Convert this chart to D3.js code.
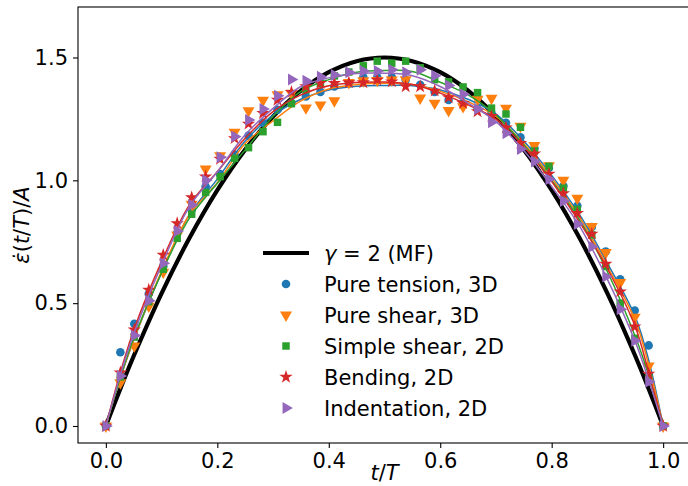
<!DOCTYPE html>
<html>
<head>
<meta charset="utf-8">
<script src="https://cdn.jsdelivr.net/npm/d3@7"></script>
<style>
  html, body { margin: 0; padding: 0; background: #fff; }
  svg { display: block; font-family: "DejaVu Sans", sans-serif; }
</style>
</head>
<body>
<svg id="chart" width="688" height="486"></svg>
<script>
// ---- data ----
const tSample = [0, 0.026, 0.051, 0.077, 0.103, 0.128, 0.154, 0.179, 0.205, 0.231,
  0.256, 0.282, 0.308, 0.333, 0.359, 0.385, 0.410, 0.436, 0.462, 0.487,
  0.513, 0.538, 0.564, 0.590, 0.615, 0.641, 0.667, 0.692, 0.718, 0.744,
  0.769, 0.795, 0.821, 0.846, 0.872, 0.897, 0.923, 0.949, 0.974, 1];

const pureTension = [0, 0.300, 0.416, 0.538, 0.650, 0.785, 0.880, 0.975, 1.026, 1.105,
  1.182, 1.234, 1.287, 1.315, 1.341, 1.360, 1.382, 1.395, 1.419, 1.419,
  1.420, 1.409, 1.389, 1.360, 1.327, 1.314, 1.290, 1.273, 1.234, 1.175,
  1.130, 1.050, 0.977, 0.896, 0.810, 0.710, 0.597, 0.470, 0.328, 0];
const pureShear = [0, 0.176, 0.326, 0.488, 0.626, 0.778, 0.903, 1.046, 1.100, 1.196,
  1.283, 1.326, 1.348, 1.355, 1.295, 1.307, 1.324, 1.398, 1.405, 1.407,
  1.409, 1.410, 1.335, 1.314, 1.284, 1.300, 1.330, 1.334, 1.294, 1.220,
  1.142, 1.060, 1.000, 0.927, 0.812, 0.706, 0.584, 0.443, 0.244, 0];
const simpleShear = [0, 0.200, 0.362, 0.506, 0.638, 0.764, 0.862, 0.951, 1.015, 1.090,
  1.133, 1.198, 1.236, 1.312, 1.368, 1.394, 1.425, 1.441, 1.466, 1.485,
  1.477, 1.485, 1.458, 1.410, 1.401, 1.380, 1.357, 1.294, 1.270, 1.216,
  1.119, 1.057, 0.968, 0.882, 0.778, 0.649, 0.500, 0.357, 0.200, 0];
const bending = [0, 0.217, 0.392, 0.554, 0.696, 0.825, 0.930, 1.015, 1.087, 1.171,
  1.230, 1.273, 1.327, 1.359, 1.382, 1.395, 1.395, 1.398, 1.398, 1.409,
  1.402, 1.382, 1.382, 1.364, 1.337, 1.314, 1.280, 1.261, 1.214, 1.151,
  1.108, 1.026, 0.947, 0.866, 0.782, 0.660, 0.547, 0.404, 0.212, 0];
const indentation = [0, 0.204, 0.368, 0.510, 0.662, 0.794, 0.900, 1.000, 1.094, 1.178,
  1.246, 1.290, 1.344, 1.410, 1.405, 1.422, 1.429, 1.440, 1.445, 1.445,
  1.450, 1.440, 1.450, 1.426, 1.386, 1.350, 1.290, 1.236, 1.192, 1.127,
  1.077, 1.004, 0.916, 0.822, 0.730, 0.608, 0.475, 0.347, 0.180, 0];

// fitted curves, read at these t values
const tCurve = [0, 0.025, 0.05, 0.1, 0.15, 0.2, 0.25, 0.3, 0.35, 0.4, 0.45, 0.5,
  0.55, 0.6, 0.65, 0.7, 0.75, 0.8, 0.85, 0.9, 0.95, 0.975, 1];
const meanField = [0, 0.146, 0.285, 0.54, 0.765, 0.96, 1.125, 1.26, 1.365, 1.44, 1.485, 1.5,
  1.485, 1.44, 1.365, 1.26, 1.125, 0.96, 0.765, 0.54, 0.285, 0.146, 0];
const fitTension = [0, 0.19, 0.35, 0.625, 0.86, 1.005, 1.16, 1.265, 1.33, 1.368, 1.383, 1.386,
  1.385, 1.368, 1.33, 1.27, 1.16, 1.02, 0.86, 0.662, 0.445, 0.26, 0];
const fitPureShear = [0, 0.19, 0.35, 0.63, 0.86, 0.99, 1.15, 1.242, 1.323, 1.372, 1.39, 1.395,
  1.39, 1.362, 1.32, 1.26, 1.15, 1.01, 0.85, 0.649, 0.43, 0.24, 0];
const fitSimpleShear = [0, 0.19, 0.357, 0.624, 0.846, 0.988, 1.124, 1.26, 1.362, 1.41, 1.44, 1.447,
  1.443, 1.399, 1.348, 1.266, 1.144, 1.0, 0.839, 0.628, 0.364, 0.2, 0];
const fitBending = [0, 0.21, 0.39, 0.669, 0.9, 1.035, 1.171, 1.28, 1.348, 1.385, 1.398, 1.40,
  1.39, 1.355, 1.307, 1.249, 1.137, 0.995, 0.83, 0.64, 0.404, 0.21, 0];
const fitIndentation = [0, 0.20, 0.375, 0.655, 0.893, 1.035, 1.185, 1.293, 1.382, 1.417, 1.435, 1.436,
  1.426, 1.382, 1.314, 1.239, 1.121, 0.975, 0.814, 0.597, 0.343, 0.18, 0];

const seriesNames = ["Pure tension, 3D", "Pure shear, 3D", "Simple shear, 2D", "Bending, 2D", "Indentation, 2D"];
const seriesColors = ["#1f77b4", "#ff7f0e", "#2ca02c", "#d62728", "#9467bd"];
const xTicks = [0, 0.2, 0.4, 0.6, 0.8, 1.0];
const yTicks = [0, 0.5, 1.0, 1.5];

(function draw() {
  const svg = d3.select("#chart");
  const pLeft = 78, pRight = 691, pTop = 7, pBottom = 443;
  const x = d3.scaleLinear().domain([-0.05, 1.05]).range([pLeft, pRight]);
  const y = d3.scaleLinear().domain([-0.0692, 1.7055]).range([pBottom, pTop]);

  const markerShapes = [
    { type: d3.symbolCircle, size: 58, rot: 0 },
    { type: d3.symbolTriangle, size: 62, rot: 180 },
    { type: d3.symbolSquare, size: 56, rot: 0 },
    { type: d3.symbolStar, size: 56, rot: 0 },
    { type: d3.symbolTriangle, size: 62, rot: 90 }
  ];
  const points = [pureTension, pureShear, simpleShear, bending, indentation];
  const fits = [fitTension, fitPureShear, fitSimpleShear, fitBending, fitIndentation];

  const line = d3.line()
    .x((d, i) => x(tCurve[i]))
    .y(d => y(d))
    .curve(d3.curveCatmullRom.alpha(0.5));

  const plot = svg.append("g");

  plot.append("path")
    .attr("d", line(meanField))
    .attr("fill", "none")
    .attr("stroke", "#000")
    .attr("stroke-width", 4.2);

  points.forEach((vals, s) => {
    plot.append("path")
      .attr("d", line(fits[s]))
      .attr("fill", "none")
      .attr("stroke", seriesColors[s])
      .attr("stroke-width", 1.5);
    const m = markerShapes[s];
    const sym = d3.symbol().type(m.type).size(m.size);
    plot.append("g").selectAll("path")
      .data(vals)
      .join("path")
      .attr("d", sym())
      .attr("transform", (d, i) => `translate(${x(tSample[i])},${y(d)}) rotate(${m.rot})`)
      .attr("fill", seriesColors[s]);
  });

  const fmt = d3.format(".1f");
  const xAxis = d3.axisBottom(x).tickValues(xTicks).tickFormat(fmt).tickSize(5).tickPadding(5);
  const yAxis = d3.axisLeft(y).tickValues(yTicks).tickFormat(fmt).tickSize(5).tickPadding(5);

  const gx = svg.append("g").attr("transform", `translate(0,${pBottom})`).call(xAxis);
  const gy = svg.append("g").attr("transform", `translate(${pLeft},0)`).call(yAxis);
  [gx, gy].forEach(g => {
    g.select(".domain").remove();
    g.selectAll("line").attr("stroke", "#000").attr("stroke-width", 1.1);
    g.selectAll("text").attr("font-size", 21).attr("fill", "#000")
      .attr("font-family", "DejaVu Sans");
  });

  svg.append("rect")
    .attr("x", pLeft).attr("y", pTop)
    .attr("width", pRight - pLeft).attr("height", pBottom - pTop)
    .attr("fill", "none").attr("stroke", "#000").attr("stroke-width", 1.1);

  const xl = svg.append("text")
    .attr("x", (pLeft + pRight) / 2).attr("y", 480)
    .attr("text-anchor", "middle").attr("font-size", 21);
  xl.append("tspan").attr("font-style", "italic").text("t");
  xl.append("tspan").text("/");
  xl.append("tspan").attr("font-style", "italic").text("T");

  const yl = svg.append("text")
    .attr("transform", `translate(29,${(pTop + pBottom) / 2}) rotate(-90)`)
    .attr("text-anchor", "middle").attr("font-size", 21);
  yl.append("tspan").attr("font-style", "italic").text("ε\u0307");
  yl.append("tspan").text("(");
  yl.append("tspan").attr("font-style", "italic").text("t");
  yl.append("tspan").text("/");
  yl.append("tspan").attr("font-style", "italic").text("T");
  yl.append("tspan").text(")/");
  yl.append("tspan").attr("font-style", "italic").text("A");

  const lg = svg.append("g");
  const legY0 = 253, legDy = 31, legMarkX = 286, legTextX = 324;
  lg.append("line")
    .attr("x1", 263).attr("x2", 309).attr("y1", legY0).attr("y2", legY0)
    .attr("stroke", "#000").attr("stroke-width", 4.2);
  const lt = lg.append("text").attr("x", legTextX).attr("y", legY0 + 7.5).attr("font-size", 21);
  lt.append("tspan").attr("font-style", "italic").text("γ");
  lt.append("tspan").text(" = 2 (MF)");

  seriesNames.forEach((name, s) => {
    const yy = legY0 + legDy * (s + 1);
    const m = markerShapes[s];
    lg.append("path")
      .attr("d", d3.symbol().type(m.type).size(m.size)())
      .attr("transform", `translate(${legMarkX},${yy}) rotate(${m.rot})`)
      .attr("fill", seriesColors[s]);
    lg.append("text")
      .attr("x", legTextX).attr("y", yy + 7.5)
      .attr("font-size", 21)
      .text(name);
  });
})();
</script>
</body>
</html>
